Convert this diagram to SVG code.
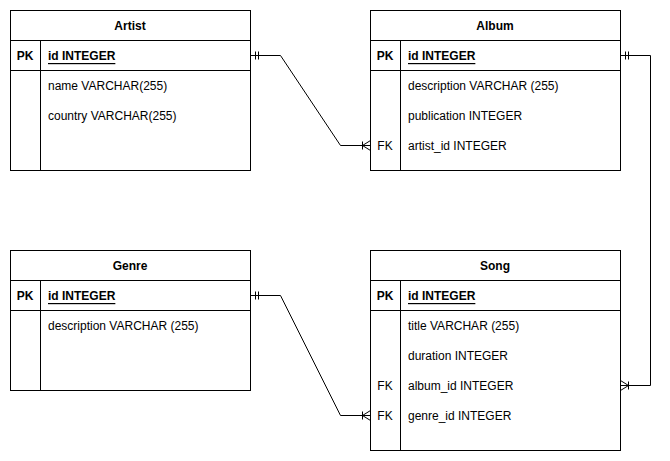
<svg xmlns="http://www.w3.org/2000/svg" width="670" height="461" viewBox="0 0 670 461">
<style>
.box{fill:#fff;stroke:#000;stroke-width:1}
.ln{fill:none;stroke:#000;stroke-width:1}
text{font-family:"Liberation Sans",Arial,Helvetica,sans-serif;font-size:12px;fill:#000;dominant-baseline:central}
.t{font-weight:bold;text-anchor:middle}
.k{font-weight:bold;text-anchor:middle}
.pk{font-weight:bold;text-decoration:underline}
</style>
<rect width="670" height="461" fill="#fff"/>
<g id="artist">
<rect class="box" x="10.5" y="10.5" width="240" height="160"/>
<line class="ln" x1="10.5" y1="40.5" x2="250.5" y2="40.5"/>
<line class="ln" x1="10.5" y1="70.5" x2="250.5" y2="70.5"/>
<line class="ln" x1="40.5" y1="40.5" x2="40.5" y2="170.5"/>
<text class="t" x="130" y="26">Artist</text>
<text class="k" x="25" y="56">PK</text>
<text class="pk" x="48" y="56">id INTEGER</text>
<text x="48" y="86">name VARCHAR(255)</text>
<text x="48" y="116">country VARCHAR(255)</text>
</g>
<g id="album">
<rect class="box" x="370.5" y="10.5" width="250" height="160"/>
<line class="ln" x1="370.5" y1="40.5" x2="620.5" y2="40.5"/>
<line class="ln" x1="370.5" y1="70.5" x2="620.5" y2="70.5"/>
<line class="ln" x1="400.5" y1="40.5" x2="400.5" y2="170.5"/>
<text class="t" x="495" y="26">Album</text>
<text class="k" x="385" y="56">PK</text>
<text class="pk" x="408" y="56">id INTEGER</text>
<text x="408" y="86">description VARCHAR (255)</text>
<text x="408" y="116">publication INTEGER</text>
<text class="k" x="385" y="146" style="font-weight:normal">FK</text>
<text x="408" y="146">artist_id INTEGER</text>
</g>
<g id="genre">
<rect class="box" x="10.5" y="250.5" width="240" height="140"/>
<line class="ln" x1="10.5" y1="280.5" x2="250.5" y2="280.5"/>
<line class="ln" x1="10.5" y1="310.5" x2="250.5" y2="310.5"/>
<line class="ln" x1="40.5" y1="280.5" x2="40.5" y2="390.5"/>
<text class="t" x="130" y="266">Genre</text>
<text class="k" x="25" y="296">PK</text>
<text class="pk" x="48" y="296">id INTEGER</text>
<text x="48" y="326">description VARCHAR (255)</text>
</g>
<g id="song">
<rect class="box" x="370.5" y="250.5" width="250" height="200"/>
<line class="ln" x1="370.5" y1="280.5" x2="620.5" y2="280.5"/>
<line class="ln" x1="370.5" y1="310.5" x2="620.5" y2="310.5"/>
<line class="ln" x1="400.5" y1="280.5" x2="400.5" y2="450.5"/>
<text class="t" x="495" y="266">Song</text>
<text class="k" x="385" y="296">PK</text>
<text class="pk" x="408" y="296">id INTEGER</text>
<text x="408" y="326">title VARCHAR (255)</text>
<text x="408" y="356">duration INTEGER</text>
<text class="k" x="385" y="386" style="font-weight:normal">FK</text>
<text x="408" y="386">album_id INTEGER</text>
<text class="k" x="385" y="416" style="font-weight:normal">FK</text>
<text x="408" y="416">genre_id INTEGER</text>
</g>
<g id="connectors">
<path class="ln" d="M250.5 55.5 H280.5 L340.5 145.5 H370.5"/>
<path class="ln" d="M255.5 51.5 V59.5 M258.5 51.5 V59.5"/>
<path class="ln" d="M362.5 141.5 V149.5 M362.5 145.5 L370.5 140.5 M362.5 145.5 L370.5 150.5"/>
<path class="ln" d="M620.5 55.5 H650.5 V385.5 H620.5"/>
<path class="ln" d="M625.5 51.5 V59.5 M628.5 51.5 V59.5"/>
<path class="ln" d="M628.5 381.5 V389.5 M628.5 385.5 L620.5 380.5 M628.5 385.5 L620.5 390.5"/>
<path class="ln" d="M250.5 295.5 H280.5 L340.5 415.5 H370.5"/>
<path class="ln" d="M255.5 291.5 V299.5 M258.5 291.5 V299.5"/>
<path class="ln" d="M362.5 411.5 V419.5 M362.5 415.5 L370.5 410.5 M362.5 415.5 L370.5 420.5"/>
</g>
</svg>
